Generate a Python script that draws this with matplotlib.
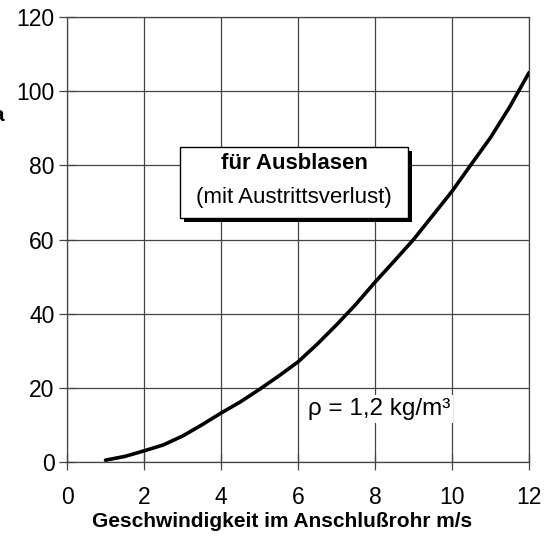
import matplotlib.pyplot as plt
from matplotlib.patches import Rectangle

plt.rcParams['font.family'] = ['Liberation Sans', 'DejaVu Sans']

# Kurve: Druckverlust über Geschwindigkeit
v = [1.0, 1.5, 2.0, 2.5, 3.0, 3.5, 4.0, 4.5, 5.0, 5.5, 6.0, 6.5,
     7.0, 7.5, 8.0, 8.5, 9.0, 9.5, 10.0, 10.5, 11.0, 11.5, 12.0]
dp = [0.5, 1.5, 3.0, 4.6, 7.0, 10.0, 13.2, 16.2, 19.6, 23.2, 27.0, 31.8,
      37.0, 42.5, 48.5, 54.2, 60.0, 66.5, 73.0, 80.3, 87.5, 95.8, 105.0]

xticks = [0, 2, 4, 6, 8, 10, 12]
yticks = [0, 20, 40, 60, 80, 100, 120]

fig = plt.figure(figsize=(5.58, 5.42), dpi=100)
ax = fig.add_axes([0.1201, 0.1476, 0.828, 0.821])

ax.plot(v, dp, color='black', lw=2.6, solid_capstyle='round', zorder=3)

ax.set_xlim(0, 12)
ax.set_ylim(0, 120)
ax.set_xticks(xticks)
ax.set_yticks(yticks)
ax.grid(True, color='#444444', lw=0.9)
ax.set_axisbelow(True)
for s in ax.spines.values():
    s.set_color('#444444')
    s.set_linewidth(0.9)

ax.tick_params(direction='inout', length=12, width=0.9, color='#444444',
               labelsize=16.5)
ax.tick_params(axis='x', pad=11)
ax.tick_params(axis='y', pad=3)

ax.set_xlabel('Geschwindigkeit im Anschlußrohr m/s', fontsize=15,
              fontweight='bold')
ax.xaxis.set_label_coords(0.465, -0.112)

# abgeschnittene y-Beschriftung
fig.text(5 / 558, 0.787, 'Pa', fontsize=15, fontweight='bold',
         ha='right', va='center')

# Kasten mit Schatten
ax.add_patch(Rectangle((3.05, 64.7), 5.92, 19.2, fc='black', ec='none',
                       zorder=4))
ax.add_patch(Rectangle((2.935, 65.8), 5.92, 19.2, fc='white', ec='black',
                       lw=1.0, zorder=5))
ax.text(5.9, 80.6, 'für Ausblasen', fontsize=16, fontweight='bold',
        ha='center', va='center', zorder=6)
ax.text(5.9, 71.3, '(mit Austrittsverlust)', fontsize=16,
        ha='center', va='center', zorder=6)

ax.text(8.1, 14.3, 'ρ = 1,2 kg/m³', fontsize=17.5, ha='center', va='center',
        bbox=dict(fc='white', ec='none', pad=2), zorder=4)

fig.savefig('out.png')
